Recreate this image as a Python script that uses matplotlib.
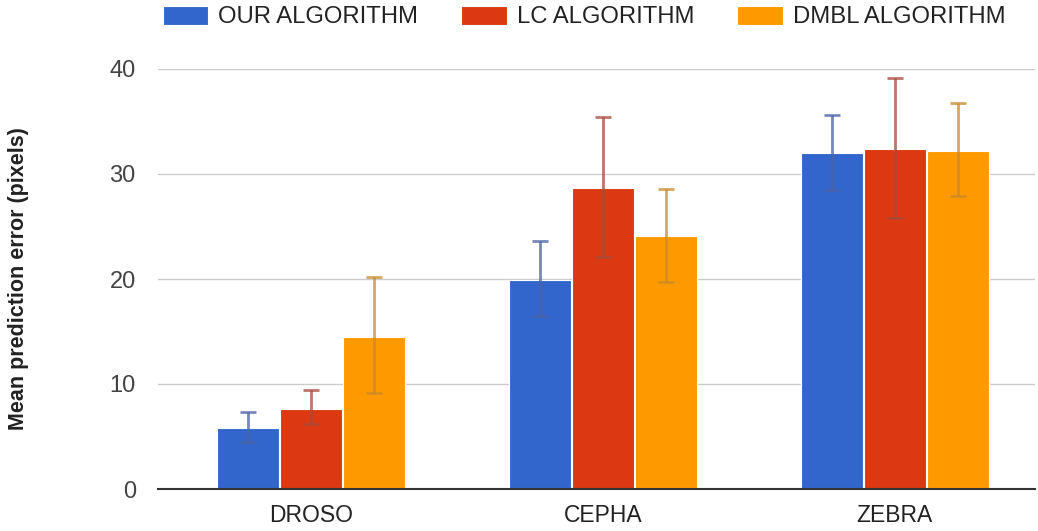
import matplotlib
matplotlib.use("Agg")
import matplotlib.pyplot as plt
import numpy as np

categories = ["DROSO", "CEPHA", "ZEBRA"]
series = ["OUR ALGORITHM", "LC ALGORITHM", "DMBL ALGORITHM"]
our_vals = [5.8, 19.9, 32.0]
lc_vals = [7.6, 28.7, 32.4]
dmbl_vals = [14.5, 24.1, 32.2]
our_lo = [4.5, 16.5, 28.5]
our_hi = [7.3, 23.6, 35.6]
lc_lo = [6.2, 22.1, 25.8]
lc_hi = [9.4, 35.4, 39.1]
dmbl_lo = [9.1, 19.7, 27.9]
dmbl_hi = [20.2, 28.6, 36.8]
yticks = [0, 10, 20, 30, 40]
ylabel = "Mean prediction error (pixels)"

colors = ["#3366cc", "#dc3912", "#ff9900"]
err_colors = ["#4a62a6", "#a8483a", "#c98a2a"]

plt.rcParams['font.family'] = ['Liberation Sans', 'DejaVu Sans']

fig = plt.figure(figsize=(10.38, 5.31), dpi=100)
ax = fig.add_axes([158/1038, 42/531, (1035-158)/1038, (489-69)/531])

x = np.arange(len(categories))
vals = [our_vals, lc_vals, dmbl_vals]
los = [our_lo, lc_lo, dmbl_lo]
his = [our_hi, lc_hi, dmbl_hi]
offsets = [-0.216, 0.0, 0.216]
w = 0.212
handles = []
for i in range(3):
    v = np.array(vals[i]); lo = np.array(los[i]); hi = np.array(his[i])
    b = ax.bar(x + offsets[i], v, width=w, color=colors[i], edgecolor="white",
               linewidth=0.8, zorder=2, label=series[i])
    handles.append(b)
    ax.errorbar(x + offsets[i], v, yerr=[v - lo, hi - v], fmt="none",
                ecolor=err_colors[i], alpha=0.75, elinewidth=2, capsize=6,
                capthick=2, zorder=3)

ax.set_xlim(-0.524, 2.48)
ax.set_ylim(0, 40)
ax.set_yticks(yticks)
ax.set_yticklabels([str(t) for t in yticks], fontsize=17, color="#444444")
ax.set_xticks(x)
ax.set_xticklabels(categories, fontsize=16.5, color="#222222")
ax.tick_params(axis="both", length=0)
ax.tick_params(axis="y", pad=16)
ax.tick_params(axis="x", pad=11)
ax.yaxis.grid(True, color="#cccccc", linewidth=1, zorder=0)
ax.set_axisbelow(True)
for s in ["top", "right", "left"]:
    ax.spines[s].set_visible(False)
ax.spines["bottom"].set_color("#333333")
ax.spines["bottom"].set_linewidth(1.5)
ax.spines["bottom"].set_zorder(4)
ax.set_ylabel(ylabel, fontsize=15.5, fontweight="bold", color="#222222", labelpad=58)

fig.legend(handles=handles, labels=series, loc="center", bbox_to_anchor=(584/1038, 1-17/531),
           ncol=3, frameon=False, fontsize=17.2, handlelength=1.9, handleheight=0.85,
           handletextpad=0.42, columnspacing=1.8, labelcolor="#222222")

fig.savefig("out.png", dpi=100)
